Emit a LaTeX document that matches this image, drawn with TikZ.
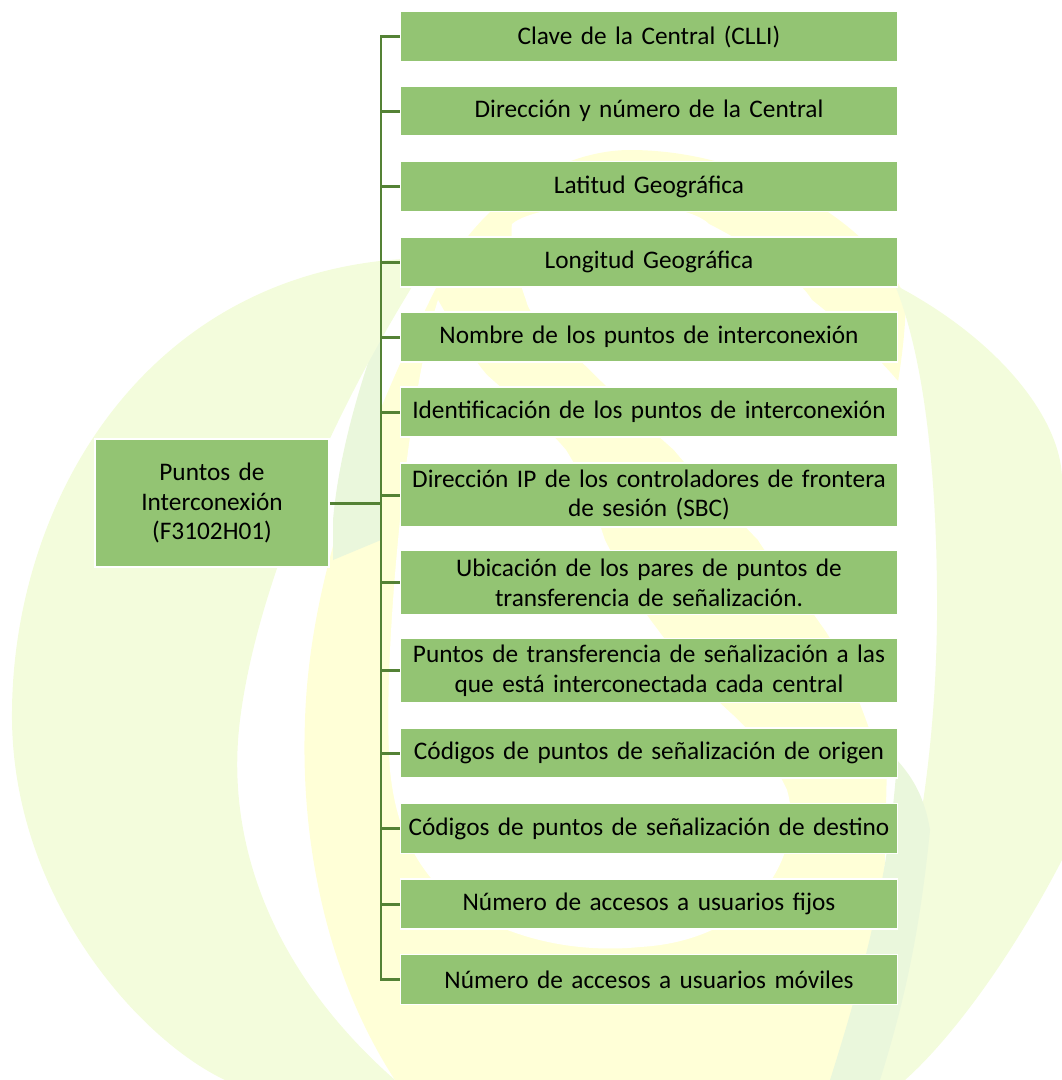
\documentclass[tikz,border=0pt]{standalone}
\usepackage{fontspec}
\setmainfont{Carlito}
\definecolor{boxgreen}{RGB}{147,196,115}
\definecolor{linegreen}{RGB}{84,130,53}
\definecolor{palegreen}{RGB}{243,252,220}
\definecolor{paleband}{RGB}{234,247,220}
\definecolor{paleyellow}{RGB}{255,255,215}

\begin{document}
\begin{tikzpicture}[x=0.02cm,y=-0.02cm,
  font=\fontsize{14.4}{17}\selectfont]
\tikzset{ItemStyle/.style ={draw=white, line width=1pt, fill=boxgreen, inner xsep=2pt,
    minimum width=9.94cm, minimum height=1cm, text width=9.8cm, align=center}}
\tikzset{RootStyle/.style ={draw=white, line width=1pt, fill=boxgreen,
    minimum width=4.68cm, minimum height=2.56cm, text width=4.4cm, align=center}}
\tikzset{LinkStyle/.style ={draw=linegreen, line width=1.7pt}}
\useasboundingbox (0,0) rectangle (1062,1080);
% watermark in the background
\fill[paleyellow] (630,150) .. controls (760,150) and (880,230) .. (906,300)
  .. controls (905,340) and (900,370) .. (895,400) -- (880,1080) -- (395,1080)
  .. controls (330,980) and (300,850) .. (305,720)
  .. controls (310,560) and (380,400) .. (440,280)
  .. controls (480,200) and (560,150) .. (630,150) -- cycle;
\fill[white] (512,224) .. controls (540,200) and (680,195) .. (709,224)
  .. controls (760,250) and (800,280) .. (812,300)
  .. controls (850,330) and (880,360) .. (897,380) -- (940,420) -- (940,760)
  -- (880,760) .. controls (860,700) and (840,650) .. (822,626)
  .. controls (790,580) and (770,560) .. (758,540)
  .. controls (720,500) and (690,470) .. (674,450)
  .. controls (640,420) and (610,390) .. (595,375)
  .. controls (560,340) and (530,320) .. (526,300)
  .. controls (515,270) and (510,240) .. (512,224) -- cycle;
\fill[white] (438,300) .. controls (455,330) and (470,355) .. (487,375)
  .. controls (515,400) and (545,425) .. (566,450)
  .. controls (585,480) and (595,510) .. (605,540)
  .. controls (620,570) and (635,600) .. (655,626)
  .. controls (680,660) and (705,690) .. (733,715)
  .. controls (760,740) and (775,765) .. (787,790)
  .. controls (805,850) and (760,940) .. (640,947)
  .. controls (560,955) and (480,930) .. (437,885)
  .. controls (410,855) and (395,820) .. (390,770)
  .. controls (385,700) and (392,600) .. (400,520)
  .. controls (410,420) and (425,340) .. (438,300) -- cycle;
\fill[paleband] (397,285) .. controls (370,350) and (340,440) .. (333,520)
  -- (333,560) -- (381,540) -- (381,340) -- cycle;
\fill[palegreen] (430,258) .. controls (150,260) and (10,500) .. (12,720)
  .. controls (14,900) and (140,1040) .. (225,1080) -- (395,1080)
  .. controls (270,970) and (225,840) .. (240,720)
  .. controls (255,600) and (320,430) .. (430,258) -- cycle;
\fill[palegreen] (895,285) .. controls (1000,340) and (1062,420) .. (1062,480)
  -- (1062,860) .. controls (1010,960) and (950,1040) .. (905,1080) -- (850,1080)
  .. controls (900,950) and (935,800) .. (937,620)
  .. controls (938,480) and (925,360) .. (895,285) -- cycle;
\fill[paleband] (830,1080) .. controls (865,970) and (890,870) .. (897,760)
  .. controls (915,780) and (925,800) .. (930,830)
  .. controls (920,930) and (905,1000) .. (880,1080) -- cycle;

\node[RootStyle] (root) at (212,503) {Puntos de\\ Interconexión\\ (F3102H01)};
\node[ItemStyle] (clave) at (649,36.5) {Clave de la Central (CLLI)};
\node[ItemStyle] (direccion) at (649,111) {Dirección y número de la Central};
\node[ItemStyle] (latitud) at (649,186.5) {Latitud Geográfica};
\node[ItemStyle] (longitud) at (649,262) {Longitud Geográfica};
\node[ItemStyle] (nombre) at (649,337) {Nombre de los puntos de interconexión};
\node[ItemStyle] (ident) at (649,412) {Identificación de los puntos de interconexión};
\node[ItemStyle, minimum height=1.28cm] (ip) at (649,495)
  {Dirección IP de los controladores de frontera\\ de sesión (SBC)};
\node[ItemStyle, minimum height=1.28cm] (ubic) at (649,582.5)
  {Ubicación de los pares de puntos de\\ transferencia de señalización.};
\node[ItemStyle, minimum height=1.28cm] (ptos) at (649,670.5)
  {Puntos de transferencia de señalización a las\\ que está interconectada cada central};
\node[ItemStyle] (origen) at (649,753) {Códigos de puntos de señalización de origen};
\node[ItemStyle] (destino) at (649,828.5) {Códigos de puntos de señalización de destino};
\node[ItemStyle] (fijos) at (649,904) {Número de accesos a usuarios fijos};
\node[ItemStyle] (moviles) at (649,979.5) {Número de accesos a usuarios móviles};

\coordinate (trunk) at (381,503);
\draw[LinkStyle] (root) -- (trunk);
\draw[LinkStyle] (trunk) |- (clave);
\draw[LinkStyle] (trunk) |- (direccion);
\draw[LinkStyle] (trunk) |- (latitud);
\draw[LinkStyle] (trunk) |- (longitud);
\draw[LinkStyle] (trunk) |- (nombre);
\draw[LinkStyle] (trunk) |- (ident);
\draw[LinkStyle] (trunk) |- (ip);
\draw[LinkStyle] (trunk) |- (ubic);
\draw[LinkStyle] (trunk) |- (ptos);
\draw[LinkStyle] (trunk) |- (origen);
\draw[LinkStyle] (trunk) |- (destino);
\draw[LinkStyle] (trunk) |- (fijos);
\draw[LinkStyle] (trunk) |- (moviles);
\end{tikzpicture}
\end{document}
